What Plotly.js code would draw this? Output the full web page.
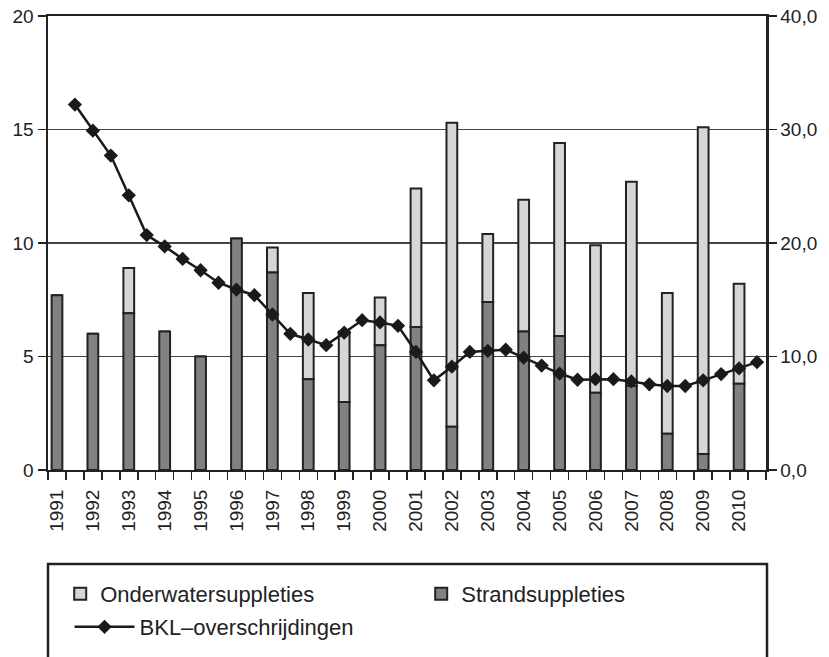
<!DOCTYPE html>
<html>
<head>
<meta charset="utf-8">
<script src="https://cdn.plot.ly/plotly-3.0.1.min.js"></script>
<style>html,body{margin:0;padding:0;background:#fff;}#chart{width:829px;height:657px;}</style>
</head>
<body>
<div id="chart"></div>
<script>
// Years of the bars
const years = [1991,1992,1993,1994,1995,1996,1997,1998,1999,2000,2001,2002,2003,2004,2005,2006,2007,2008,2009,2010];
// Strandsuppleties (bottom, dark)
const strand = [7.7,6.0,6.9,6.1,5.0,10.2,8.7,4.0,3.0,5.5,6.3,1.9,7.4,6.1,5.9,3.4,3.7,1.6,0.7,3.8];
// Onderwatersuppleties (top, light)
const onder = [0,0,2.0,0,0,0,1.1,3.8,3.1,2.1,6.1,13.4,3.0,5.8,8.5,6.5,9.0,6.2,14.4,4.4];
// BKL-overschrijdingen (half-year positions, right axis)
const bklX = [1991.5,1992,1992.5,1993,1993.5,1994,1994.5,1995,1995.5,1996,1996.5,1997,1997.5,1998,1998.5,1999,1999.5,2000,2000.5,2001,2001.5,2002,2002.5,2003,2003.5,2004,2004.5,2005,2005.5,2006,2006.5,2007,2007.5,2008,2008.5,2009,2009.5,2010,2010.5];
const bkl = [32.2,29.9,27.7,24.2,20.7,19.7,18.6,17.6,16.5,15.9,15.4,13.7,12.0,11.5,11.0,12.1,13.2,13.0,12.7,10.4,7.9,9.1,10.4,10.5,10.6,9.9,9.2,8.5,7.95,8.0,8.0,7.8,7.55,7.4,7.4,7.9,8.45,8.95,9.5];

const dark = '#808185', light = '#d5d6d8', ink = '#222222';
const fontFam = '"Liberation Sans", Arial, sans-serif';

const traces = [
  {type:'bar', name:'Onderwatersuppleties', x:years, y:onder, width:0.3, base:strand,
   marker:{color:light, line:{color:ink, width:2}}, legend:'legend', hoverinfo:'skip'},
  {type:'bar', name:'Strandsuppleties', x:years, y:strand, width:0.3,
   marker:{color:dark, line:{color:ink, width:2}}, legend:'legend', hoverinfo:'skip'},
  {type:'scatter', mode:'lines+markers', name:'BKL\u2013overschrijdingen', x:bklX, y:bkl, yaxis:'y2',
   line:{color:'#1a1a1a', width:2.5}, marker:{symbol:'diamond', size:11, color:'#1a1a1a'},
   legend:'legend2', hoverinfo:'skip'}
];

const tickFont = {family:fontFam, size:19, color:ink};
const legFont = {family:fontFam, size:22, color:ink};
const layout = {
  width:829, height:657,
  margin:{l:48, r:63, t:16, b:187},
  paper_bgcolor:'#fff', plot_bgcolor:'#fff',
  separators:', ',
  barmode:'overlay',
  showlegend:true,
  xaxis:{range:[1990.75,2010.75], tickmode:'array', tickvals:years, ticktext:years.map(String),
    tickangle:-90, ticks:'', tickfont:tickFont, ticklabelstandoff:10, showgrid:false, zeroline:false,
    showline:true, linecolor:ink, linewidth:2, mirror:true, automargin:false,
    minor:{tick0:1990.75, dtick:0.5, ticks:'outside', ticklen:8, tickcolor:ink, tickwidth:1.5, showgrid:false}},
  yaxis:{range:[0,20], dtick:5, tick0:0, ticks:'outside', ticklen:8, tickcolor:ink, tickwidth:1.5,
    tickfont:tickFont, showgrid:true, gridcolor:'#444', gridwidth:1.2, zeroline:false,
    showline:true, linecolor:ink, linewidth:2.5, automargin:false},
  yaxis2:{range:[0,40], dtick:10, tick0:0, overlaying:'y', side:'right', tickformat:'.1f',
    ticks:'outside', ticklen:8, tickcolor:ink, tickwidth:1.5, tickfont:tickFont,
    showgrid:false, zeroline:false, showline:true, linecolor:ink, linewidth:2.5, automargin:false},
  legend:{orientation:'h', xref:'paper', x:0.017, xanchor:'left', yref:'container', y:0.128, yanchor:'top',
    entrywidth:316, entrywidthmode:'pixels', font:legFont,
    bgcolor:'rgba(0,0,0,0)', borderwidth:0, traceorder:'normal'},
  legend2:{orientation:'h', xref:'paper', x:0.03, xanchor:'left', yref:'container', y:0.0776, yanchor:'top', itemwidth:60,
    font:legFont, bgcolor:'rgba(0,0,0,0)', borderwidth:0},
  shapes:[{type:'rect', xref:'paper', yref:'paper', x0:0, x1:1.0014, y0:-0.207, y1:-0.45,
    line:{color:ink, width:2.5}, fillcolor:'rgba(0,0,0,0)'}]
};

Plotly.newPlot('chart', traces, layout, {staticPlot:true});
</script>
</body>
</html>
